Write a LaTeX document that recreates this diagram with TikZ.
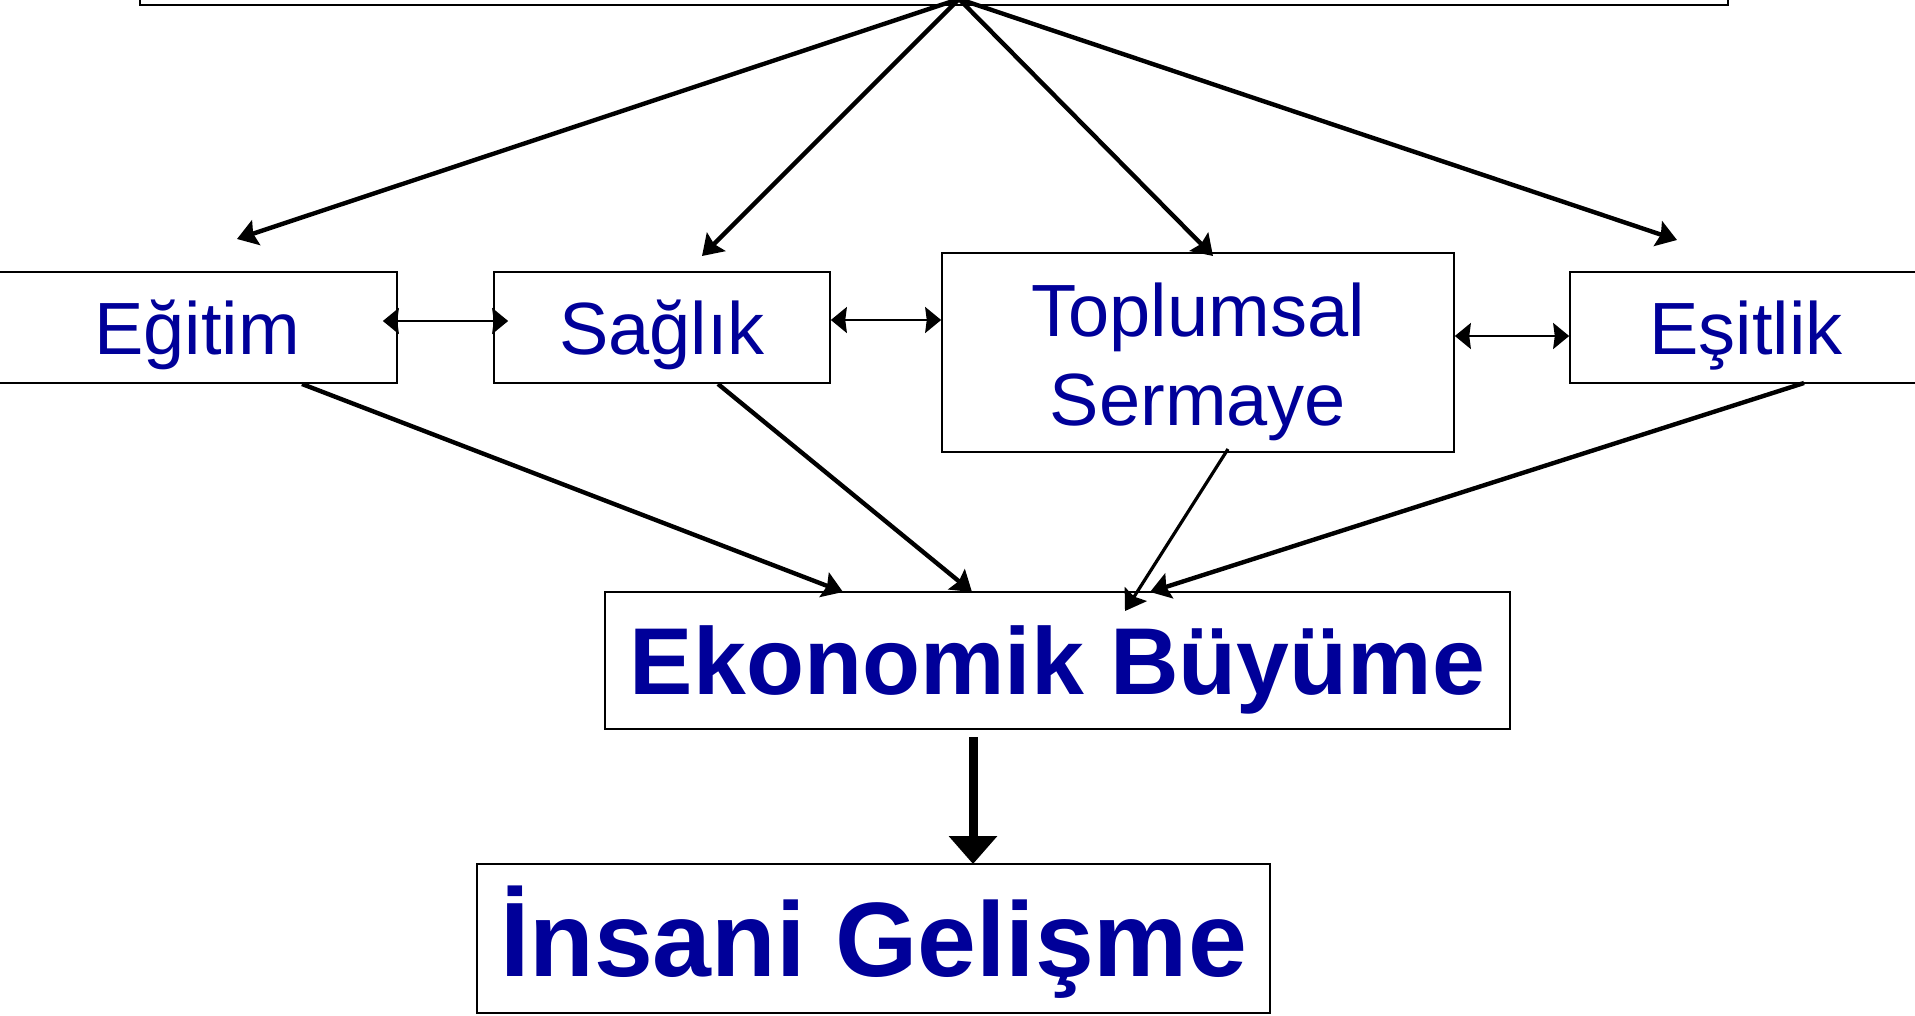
\documentclass[tikz,border=0pt]{standalone}
\usepackage{fontspec}
\setmainfont{Liberation Sans}
\usetikzlibrary{arrows.meta}
\definecolor{tblue}{RGB}{0,0,153}
\begin{document}
\begin{tikzpicture}[x=0.5pt,y=-0.5pt,
  box/.style={draw, line width=0.85pt, rectangle, inner sep=0pt, fill=white},
  lbl/.style={text=tblue, font=\fontsize{37}{44}\selectfont, text height=26.5pt, text depth=-1pt},
  lblbig/.style={text=tblue, font=\bfseries\fontsize{47.5}{56}\selectfont, text height=34pt, text depth=0pt},
  lblhuge/.style={text=tblue, font=\bfseries\fontsize{52.9}{62}\selectfont, text height=37.9pt, text depth=0pt},
  arr/.style={line width=2.2pt, -{Stealth[length=10pt,width=13pt,inset=1.5pt]}},
  dbl/.style={line width=1.1pt, {Stealth[length=8pt,width=13pt,inset=0.8pt]}-{Stealth[length=8pt,width=13pt,inset=0.8pt]}},
  bigarr/.style={line width=4.5pt, -{Triangle[length=14pt,width=23.5pt]}}
]
\useasboundingbox (0,0) rectangle (1915,1016);
\clip (0,0) rectangle (1915,1016);

% boxes
\node[box, minimum width=794pt, minimum height=17.5pt] (top) at (934,-12.5) {};
\node[box, lbl, minimum width=200pt, minimum height=55.5pt] (eg) at (197,327.5) {Eğitim};
\node[box, lbl, minimum width=168pt, minimum height=55.5pt] (sa) at (662,327.5) {Sağlık};
\node[box, minimum width=256pt, minimum height=99.5pt] (ts) at (1198,352.5) {};
\node[lbl, anchor=base] (ts1) at (1198,336) {Toplumsal};
\node[lbl, anchor=base] (ts2) at (1198,425) {Sermaye};
\node[box, lbl, minimum width=176pt, minimum height=55.5pt] (es) at (1746,327.5) {Eşitlik};
\node[box, lblbig, minimum width=452.5pt, minimum height=68.5pt] (eb) at (1057.5,660.5) {Ekonomik Büyüme};
\node[box, lblhuge, minimum width=396.5pt, minimum height=74.5pt] (ig) at (873.5,938.5) {İnsani Gelişme};

% connector end points
\coordinate (apex) at (959,-1);
\coordinate (t1) at (237,239);
\coordinate (t2) at (702,256);
\coordinate (t3) at (1213,256);
\coordinate (t4) at (1677,240);
\coordinate (s1) at (302,384);
\coordinate (s2) at (718,384);
\coordinate (s3) at (1228,449);
\coordinate (s4) at (1804,383);
\coordinate (e1) at (843,592);
\coordinate (e2) at (972,592);
\coordinate (e3) at (1125,611);
\coordinate (e4) at (1150,592);
\coordinate (bs) at (973,737);
\coordinate (be) at (973,864);

% top arrows
\draw[arr] (apex) -- (t1);
\draw[arr] (apex) -- (t2);
\draw[arr] (apex) -- (t3);
\draw[arr] (apex) -- (t4);

% horizontal double arrows
\draw[dbl] ([shift={(-15,-6.5)}]eg.east) -- ([shift={(15,-6.5)}]sa.west);
\draw[dbl] ([yshift=3.75pt]sa.east) -- ([yshift=3.75pt]sa.east -| ts.west);
\draw[dbl] ([yshift=8.25pt]ts.east) -- ([yshift=8.25pt]ts.east -| es.west);

% bottom arrows
\draw[arr] (s1) -- (e1);
\draw[arr] (s2) -- (e2);
\draw[arr, line width=1.6pt] (s3) -- (e3);
\draw[arr] (s4) -- (e4);

% main arrow
\draw[bigarr] (bs) -- (be);
\end{tikzpicture}
\end{document}
